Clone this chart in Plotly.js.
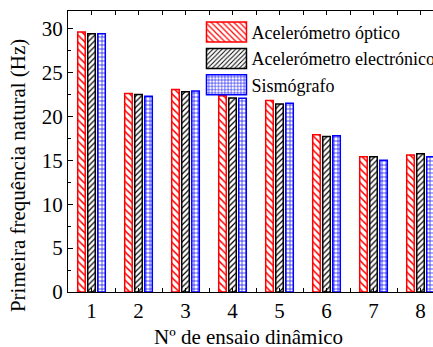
<!DOCTYPE html>
<html>
<head>
<meta charset="utf-8">
<script src="https://cdn.plot.ly/plotly-3.0.1.min.js"></script>
<style>
html,body{margin:0;padding:0;overflow:hidden;background:#fff;}
#chart{width:460px;height:347px;}
#chart text{font-family:'Liberation Serif',serif !important;}
</style>
</head>
<body>
<div id="chart"></div>
<script>
const ensaios = [1, 2, 3, 4, 5, 6, 7, 8];
const tickLabels = ['1', '2', '3', '4', '5', '6', '7', '8'];
const optico = [29.6, 22.6, 23.05, 22.35, 21.8, 17.9, 15.4, 15.6];
const electronico = [29.4, 22.5, 22.8, 22.1, 21.4, 17.7, 15.4, 15.75];
const sismografo = [29.4, 22.3, 22.9, 22.05, 21.5, 17.8, 15.0, 15.4];
const seriesNames = ['Acelerómetro óptico', 'Acelerómetro electrónico', 'Sismógrafo'];
const xTitle = 'Nº de ensaio dinâmico';
const yTitle = 'Primeira frequência natural (Hz)';

const FONT = 'Liberation Serif';

function mk(name, y, col, shape, sz) {
  return {
    type: 'bar', name: name, x: ensaios, y: y,
    marker: {
      color: 'white',
      line: {color: col, width: 1.5},
      pattern: {shape: shape, fgcolor: col, bgcolor: 'white', size: sz, solidity: 0.3, fillmode: 'replace'}
    }
  };
}

const data = [
  mk(seriesNames[0], optico, '#ff0000', '\\', 5),
  mk(seriesNames[1], electronico, '#000000', '/', 4),
  mk(seriesNames[2], sismografo, '#0000ff', '+', 4)
];

const layout = {
  width: 460, height: 347,
  margin: {l: 68, r: 16, t: 11, b: 55},
  paper_bgcolor: 'white', plot_bgcolor: 'white',
  font: {family: FONT, size: 20, color: '#000'},
  barmode: 'group', bargap: 0.36, bargroupgap: 0.25,
  showlegend: true,
  legend: {
    x: 0.355, xanchor: 'left', y: 0.99, yanchor: 'top',
    bgcolor: 'rgba(0,0,0,0)', borderwidth: 0,
    font: {family: FONT, size: 18, color: '#000'},
    itemwidth: 40, tracegroupgap: 0
  },
  xaxis: {
    range: [0.5, 8.5], tickvals: ensaios, ticktext: tickLabels,
    showline: true, linecolor: '#000', linewidth: 1.2, mirror: 'ticks',
    ticks: 'inside', ticklen: 4, tickcolor: '#000',
    minor: {ticks: 'inside', dtick: 0.5, ticklen: 4, tickcolor: '#000'},
    showgrid: false, zeroline: false,
    tickfont: {family: FONT, size: 21, color: '#000'}
  },
  yaxis: {
    range: [0, 32], dtick: 5, tick0: 0,
    showline: true, linecolor: '#000', linewidth: 1.2, mirror: 'ticks',
    ticks: 'inside', ticklen: 5, tickcolor: '#000',
    minor: {ticks: 'inside', dtick: 2.5, ticklen: 3, tickcolor: '#000'},
    showgrid: false, zeroline: false,
    tickfont: {family: FONT, size: 21, color: '#000'}
  },
  annotations: [
    {text: xTitle, xref: 'paper', yref: 'paper', x: 0.479, y: -0.16,
     xanchor: 'center', yanchor: 'middle', showarrow: false,
     font: {family: FONT, size: 21, color: '#000'}},
    {text: yTitle, xref: 'paper', yref: 'paper', x: -0.133, y: 0.416,
     xanchor: 'center', yanchor: 'middle', showarrow: false, textangle: -90,
     font: {family: FONT, size: 21, color: '#000'}}
  ]
};

Plotly.newPlot('chart', data, layout, {displayModeBar: false}).then(function(){
  document.querySelectorAll('.legend .legendpoints path').forEach(function(p){
    p.setAttribute('d', 'M20,10H-20V-10H20Z');
  });
});
</script>
</body>
</html>
